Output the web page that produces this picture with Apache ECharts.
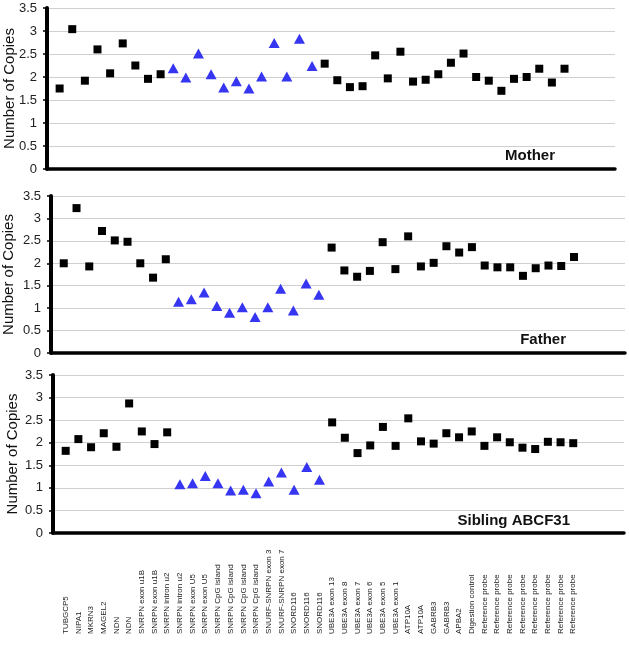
<!DOCTYPE html>
<html>
<head>
<meta charset="utf-8">
<script src="https://cdn.jsdelivr.net/npm/echarts@6/dist/echarts.min.js"></script>
<style>
html,body{margin:0;padding:0;background:#fff;}
#chart{width:629px;height:657px;}
</style>
</head>
<body>
<div id="chart"></div>
<script>
const categories = ['TUBGCP5','NIPA1','MKRN3','MAGEL2','NDN','NDN',
  'SNRPN exon u1B','SNRPN exon u1B','SNRPN intron u2','SNRPN intron u2',
  'SNRPN exon U5','SNRPN exon U5','SNRPN CpG island','SNRPN CpG island',
  'SNRPN CpG island','SNRPN CpG island','SNURF-SNRPN exon 3','SNURF-SNRPN exon 7',
  'SNORD116','SNORD116','SNORD116','UBE3A exon 13','UBE3A exon 8','UBE3A exon 7',
  'UBE3A exon 6','UBE3A exon 5','UBE3A exon 1','ATP10A','ATP10A','GABRB3','GABRB3',
  'APBA2','Digestion control','Reference probe','Reference probe','Reference probe',
  'Reference probe','Reference probe','Reference probe','Reference probe','Reference probe'];

// indices (0-based) of the probes drawn as blue triangles
const triangleProbes = [9,10,11,12,13,14,15,16,17,18,19,20];

const motherValues = [1.75,3.04,1.92,2.60,2.08,2.73,2.25,1.96,2.06,
  2.19,1.99,2.51,2.06,1.77,1.91,1.75,2.01,2.74,2.01,2.83,2.24,
  2.29,1.93,1.78,1.80,2.47,1.97,2.55,1.90,1.94,2.06,2.31,2.51,
  2.00,1.92,1.70,1.96,2.00,2.18,1.88,2.18];

const fatherValues = [2.00,3.23,1.93,2.72,2.51,2.48,2.00,1.68,2.09,
  1.14,1.20,1.35,1.05,0.90,1.02,0.80,1.02,1.43,0.95,1.55,1.30,
  2.35,1.84,1.70,1.83,2.47,1.87,2.60,1.93,2.01,2.38,2.24,2.36,
  1.95,1.91,1.91,1.72,1.89,1.95,1.94,2.14];

const siblingValues = [1.82,2.08,1.90,2.21,1.91,2.87,2.25,1.97,2.23,
  1.08,1.10,1.26,1.10,0.94,0.96,0.88,1.14,1.34,0.96,1.46,1.18,
  2.45,2.11,1.77,1.94,2.35,1.93,2.54,2.03,1.98,2.21,2.12,2.25,
  1.93,2.12,2.01,1.89,1.86,2.02,2.01,1.99];

const panelNames = ['Mother','Father','Sibling ABCF31'];
const yTicks = [0,0.5,1,1.5,2,2.5,3,3.5];
const yAxisTitle = 'Number of Copies';

// axis slots: one empty slot before, four after
const axisCats = [''].concat(categories, ['', '', '', '']);

const grids = [
  {left:47, right:14, top:8, height:161, outerBoundsMode:'none'},
  {left:51, right:4, top:196, height:157, outerBoundsMode:'none'},
  {left:53, right:5, top:375, height:158, outerBoundsMode:'none'}
];
const nameGaps = [30, 35, 33];
const titlePos = [[555,156],[566,340],[570,521]];

const FONT = 'Liberation Sans, Arial, sans-serif';
const xAxes = [], yAxes = [], series = [];
const allValues = [motherValues, fatherValues, siblingValues];
for (let g = 0; g < 3; g++) {
  xAxes.push({
    type:'category', gridIndex:g, data:axisCats, boundaryGap:false,
    axisLine:{show:true, lineStyle:{color:'#000', width:3.5}},
    axisTick:{show:false},
    splitLine:{show:false},
    axisLabel: g === 2 ? {
      show:true, interval:0, rotate:90, align:'left', verticalAlign:'middle',
      margin:101, fontSize:8, color:'#222', fontFamily:FONT
    } : {show:false}
  });
  yAxes.push({
    type:'value', gridIndex:g, min:yTicks[0], max:yTicks[yTicks.length-1], interval:0.5,
    name:yAxisTitle, nameLocation:'middle', nameGap:nameGaps[g], nameRotate:90,
    nameMoveOverlap:false,
    nameTextStyle:{fontSize:15, color:'#111', fontFamily:FONT},
    axisLine:{show:true, lineStyle:{color:'#000', width:4}},
    axisTick:{show:true, length:4, lineStyle:{color:'#000', width:1.5}},
    axisLabel:{fontSize:13, color:'#222', margin:10, fontFamily:FONT},
    splitLine:{show:true, lineStyle:{color:'#cfcfcf', width:1}}
  });
  const vals = allValues[g];
  const sq = [], tri = [];
  vals.forEach((v, i) => {
    if (triangleProbes.indexOf(i) >= 0) tri.push([i+1, v]); else sq.push([i+1, v]);
  });
  series.push({
    type:'scatter', xAxisIndex:g, yAxisIndex:g, data:sq,
    symbol:'rect', symbolSize:8, itemStyle:{color:'#000', opacity:1}, z:3
  });
  series.push({
    type:'scatter', xAxisIndex:g, yAxisIndex:g, data:tri,
    symbol:'triangle', symbolSize:[11,10], itemStyle:{color:'#3535F2', opacity:1}, z:3
  });
}

const graphics = panelNames.map((n, i) => ({
  type:'text', x:titlePos[i][0], y:titlePos[i][1], z:10,
  style:{text:n, fontSize:15, fontWeight:'bold', fill:'#111',
    fontFamily:FONT, textAlign:'right', textVerticalAlign:'middle'}
}));

const chart = echarts.init(document.getElementById('chart'), null, {renderer:'canvas'});
chart.setOption({
  animation:false,
  backgroundColor:'#fff',
  textStyle:{fontFamily:FONT},
  grid:grids,
  xAxis:xAxes,
  yAxis:yAxes,
  series:series,
  graphic:graphics
});
</script>
</body>
</html>
